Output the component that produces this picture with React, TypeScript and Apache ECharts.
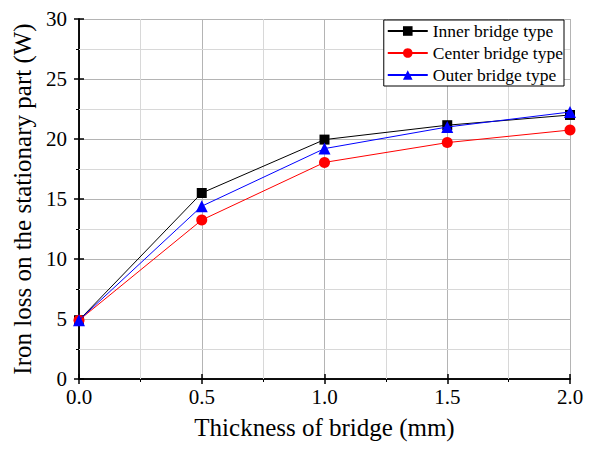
import React, { useEffect, useRef } from "react";
import * as echarts from "echarts";

const thickness = [0, 0.5, 1.0, 1.5, 2.0];
const innerBridge = [4.9, 15.5, 19.95, 21.15, 22.0];
const centerBridge = [4.9, 13.25, 18.05, 19.7, 20.75];
const outerBridge = [4.9, 14.4, 19.2, 21.0, 22.25];
const seriesNames = ["Inner bridge type", "Center bridge type", "Outer bridge type"];
const minorGridX = [0.25, 0.75, 1.25, 1.75];
const minorGridY = [2.5, 7.5, 12.5, 17.5, 22.5, 27.5];

const FONT = "'Liberation Serif', 'Times New Roman', serif";

export default function App() {
  const ref = useRef<HTMLDivElement>(null);
  useEffect(() => {
    if (!ref.current) return;
    const chart = echarts.init(ref.current, null, { renderer: "svg" });
    const pair = (ys: number[]) => thickness.map((x, i) => [x, ys[i]]);
    const axisCommon = {
      axisLine: { show: true, lineStyle: { color: "#000", width: 1.5 } },
      axisTick: { show: true, inside: true, length: 5, lineStyle: { color: "#000", width: 1.5 } },
      minorTick: { show: true, splitNumber: 2, length: 3, lineStyle: { color: "#000", width: 1 } },
    };
    chart.setOption({
      animation: false,
      textStyle: { fontFamily: FONT },
      grid: { left: 79, top: 19, right: 24, bottom: 71, containLabel: false, outerBoundsMode: "none" },
      legend: {
        data: seriesNames,
        top: 20,
        right: 30,
        orient: "vertical",
        backgroundColor: "#fff",
        borderColor: "#000",
        borderWidth: 1,
        borderRadius: 0,
        padding: [0, 1, 0, 3],
        itemGap: 0,
        itemWidth: 40,
        itemHeight: 12,
        z: 10,
        textStyle: { fontFamily: FONT, fontSize: 17.5, lineHeight: 22, color: "#000" },
      },
      xAxis: [
        {
          type: "value",
          position: "bottom",
          min: 0,
          max: 2,
          interval: 0.5,
          name: "Thickness of bridge (mm)",
          nameLocation: "middle",
          nameGap: 36,
          nameTextStyle: { fontFamily: FONT, fontSize: 25, color: "#000" },
          axisLabel: {
            fontFamily: FONT,
            fontSize: 21,
            color: "#000",
            margin: 7,
            formatter: (v: number) => v.toFixed(1),
          },
          splitLine: { show: true, lineStyle: { color: "#b4b4b4", width: 1 } },
          ...axisCommon,
        },
        {
          type: "value",
          position: "top",
          min: 0,
          max: 2,
          interval: 0.5,
          axisLabel: { show: false },
          splitLine: { show: false },
          ...axisCommon,
        },
      ],
      yAxis: [
        {
          type: "value",
          position: "left",
          min: 0,
          max: 30,
          interval: 5,
          name: "Iron loss on the stationary part (W)",
          nameLocation: "middle",
          nameGap: 41,
          nameTextStyle: { fontFamily: FONT, fontSize: 25, color: "#000" },
          axisLabel: { fontFamily: FONT, fontSize: 21, color: "#000", margin: 12 },
          splitLine: { show: true, lineStyle: { color: "#b4b4b4", width: 1 } },
          ...axisCommon,
        },
        {
          type: "value",
          position: "right",
          min: 0,
          max: 30,
          interval: 5,
          axisLabel: { show: false },
          splitLine: { show: false },
          ...axisCommon,
        },
      ],
      series: [
        {
          name: seriesNames[0],
          type: "line",
          data: pair(innerBridge),
          symbol: "rect",
          symbolSize: 10,
          itemStyle: { color: "#000" },
          lineStyle: { color: "#000", width: 1 },
          z: 3,
          markLine: {
            silent: true,
            z: 1,
            symbol: "none",
            label: { show: false },
            emphasis: { disabled: true },
            lineStyle: { color: "#d8d8d8", width: 1, type: "solid" },
            data: [
              ...minorGridX.map((v) => ({ xAxis: v })),
              ...minorGridY.map((v) => ({ yAxis: v })),
            ],
          },
        },
        {
          name: seriesNames[1],
          type: "line",
          data: pair(centerBridge),
          symbol: "circle",
          symbolSize: 11,
          itemStyle: { color: "#ff0000" },
          lineStyle: { color: "#ff0000", width: 1 },
          z: 4,
        },
        {
          name: seriesNames[2],
          type: "line",
          data: pair(outerBridge),
          symbol: "triangle",
          symbolSize: 12,
          itemStyle: { color: "#0000ff" },
          lineStyle: { color: "#0000ff", width: 1 },
          z: 5,
        },
      ],
    });
    return () => chart.dispose();
  }, []);
  return <div ref={ref} style={{ width: 594, height: 450, position: "absolute", left: 0, top: 0, background: "#fff" }} />;
}
